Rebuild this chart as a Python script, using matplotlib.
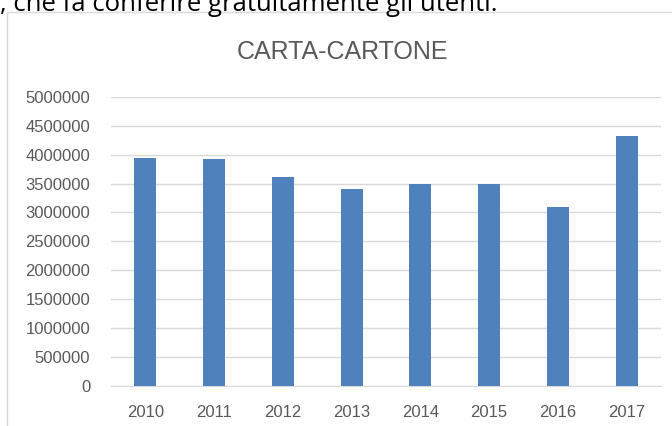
import matplotlib.pyplot as plt
from matplotlib.patches import Rectangle

years = ['2010', '2011', '2012', '2013', '2014', '2015', '2016', '2017']
tonnes = [3950000, 3930000, 3610000, 3410000, 3490000, 3490000, 3090000, 4320000]
yticks = list(range(0, 5000001, 500000))

plt.rcParams['font.family'] = ['Liberation Sans', 'DejaVu Sans']

fig = plt.figure(figsize=(6.72, 4.26), dpi=100)
W, H = 672, 426

# testo tagliato in alto (riga del documento)
fig.text(0.0, 1 - 11 / H, ', che fa conferire gratuitamente gli utenti.',
         fontsize=18.5, family=['Open Sans', 'DejaVu Sans'], color='black',
         ha='left', va='baseline')

# bordo del grafico
fig.patches.append(Rectangle((7 / W, -0.1), 1.2, 1 - 12 / H + 0.1,
                             transform=fig.transFigure, fill=False,
                             edgecolor='#d9d9d9', linewidth=1))

ax = fig.add_axes([111 / W, 1 - 385.5 / H, 550 / W, 288.5 / H])
x = range(len(years))
ax.bar(x, tonnes, width=0.32, color='#4f81bd', zorder=3)
ax.set_xlim(-0.5, len(years) - 0.5)
ax.set_ylim(0, 5000000)
ax.set_yticks(yticks)
ax.set_yticklabels([str(v) for v in yticks])
ax.set_xticks(list(x))
ax.set_xticklabels(years)
ax.grid(axis='y', color='#d9d9d9', linewidth=1, zorder=0)
for s in ['top', 'right', 'left']:
    ax.spines[s].set_visible(False)
ax.spines['bottom'].set_color('#d9d9d9')
ax.tick_params(axis='both', length=0, labelsize=12, labelcolor='#595959')
ax.tick_params(axis='x', pad=14)
ax.tick_params(axis='y', pad=15)

fig.text(0.51, 1 - 52 / H, 'CARTA-CARTONE', fontsize=18, color='#595959',
         ha='center', va='center')

fig.savefig('out.png', dpi=100)
